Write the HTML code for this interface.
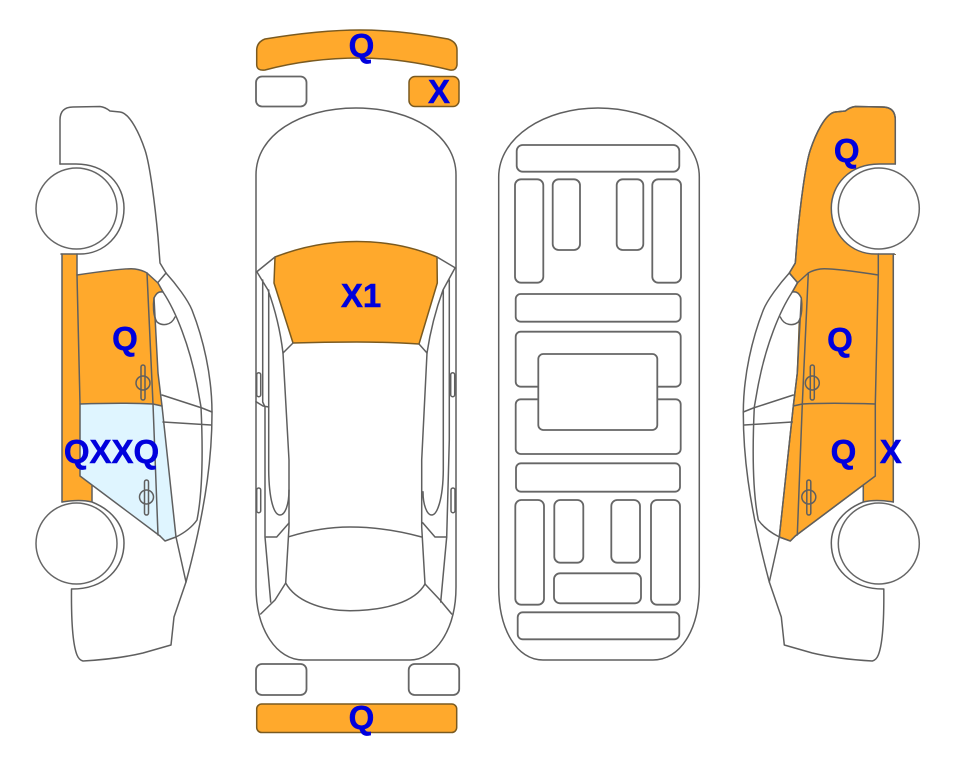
<!DOCTYPE html>
<html><head><meta charset="utf-8"><style>
html,body{margin:0;padding:0;background:#fff;width:963px;height:768px;overflow:hidden}
svg{display:block;filter:blur(.35px)}
.l{fill:none;stroke:#5f5f5f;stroke-width:1.5;stroke-linejoin:round;stroke-linecap:round}
.r{fill:#fff;stroke:#666;stroke-width:1.8}
.o{fill:#FFA92C;stroke:#7a5a20;stroke-width:1.5;stroke-linejoin:round}
.t{font-family:"Liberation Sans",sans-serif;font-weight:bold;font-size:33px;fill:#0000DD;stroke:#0000DD;stroke-width:.5;text-anchor:middle}
</style></head><body>
<svg width="963" height="768" viewBox="0 0 963 768" xmlns="http://www.w3.org/2000/svg">
<defs>
<g id="whites">
<path d="M60 164L76 164C106 164 124 185 124 208C124 235 104 254 80 254L36 254L36 164Z" fill="#fff"/>
<path d="M62 502Q80 499 92 502C112 510 124 525 124 543C124 568 105 589 72 589L36 589L36 502Z" fill="#fff"/>
<path d="M163 292C158 291 156 294 154 298C153 305 153 316 157 322C162 326 171 326 175 317Z" fill="#fff"/>
</g>
<g id="carlines">
<path class="l" d="M60 164L60 120C60 110 66 107 73 107L100 106.5Q105 107 110 111L120 112C130 113 140 135 145 150C150 165 155 205 158 237L160 263L166 273"/>
<path class="l" d="M166 273L157.7 282.7"/>
<path class="l" d="M166 273C176 284 188 300 192 310C203 338 212 375 212 413C212 450 208 500 186 582"/>
<path class="l" d="M77 275C110 270 128 268 135 269Q142 270 147 273L158 283L163 292C175 310 190 345 198 390L201 407C203 450 203 490 197 520Q190 530 176 537L165 541L160 536"/>
<path class="l" d="M62 254L62 502M77 254L77 275L80 404L80 476L92 485L92 501M92 485L160 536"/>
<path class="l" d="M147 273L153 404L158 535"/>
<path class="l" d="M80 404C110 403 135 403 153 404L162 406"/>
<path class="l" d="M154 298L158 373L162 406L176 537L186 582L174 617L171 645L143 653Q118 659 83 661Q79 660 77 655Q71 640 71.5 589"/>
<path class="l" d="M162 395L202 408L212 412M163 422L211 425"/>
<path class="l" d="M163 292C158 291 156 294 154 298C153 305 153 316 157 322C162 326 171 326 175 317"/>
<path class="l" d="M60 164L76 164C106 164 124 185 124 208C124 235 104 254 80 254L61 254"/>
<path class="l" d="M62 502Q80 499 92 502C112 510 124 525 124 543C124 568 105 589 72 589"/>
<circle class="r" cx="76.5" cy="208.5" r="40.5" style="stroke-width:1.5"/>
<circle class="r" cx="76.5" cy="543.5" r="40.5" style="stroke-width:1.5"/>
<rect class="l" x="141" y="365" width="4" height="35" rx="2"/>
<ellipse class="l" cx="143" cy="383" rx="7" ry="7"/>
<rect class="l" x="144.5" y="480" width="4" height="35" rx="2"/>
<ellipse class="l" cx="146.5" cy="497" rx="7" ry="7"/>
</g>
</defs>

<rect width="963" height="768" fill="#fff"/>
<!-- left car -->
<path fill="#FFA92C" d="M62 254L77 254L77 275C110 270 128 268 135 269Q142 270 147 273L158 283L163 292L155 298L158 373L162 406L80 404L80 476L92 485L92 502L62 502Z"/>
<path fill="#DFF5FF" d="M80 404C110 403 135 403 153 404L162 406L176 537L165 541L160 536L92 485L80 476Z"/>
<use href="#whites"/>
<use href="#carlines"/>

<!-- right car -->
<g transform="translate(955.3 0) scale(-1 1)">
<path fill="#FFA92C" stroke="#6b4a10" stroke-width="1.4" d="M60 254L60 120C60 110 66 107 73 107L100 106.5Q105 107 110 111L120 112C130 113 140 135 145 150C150 165 155 205 158 237L160 263L166 273L157.7 282.7L163 292L155 298L158 373L162 406L176 537L165 541L160 536L92 485L92 502L62 502L62 254Z"/>
<use href="#whites"/>
<use href="#carlines"/>
</g>

<!-- top view bumper/lights -->
<path class="o" d="M256.7 50Q257 42 265 39Q320 30 360 30Q400 30 448 39Q457 42 457 50L457 65Q456 71 450 70Q400 58 360 58Q310 58 265 70Q257 71 256.7 65Z"/>
<rect class="r" x="256" y="76.5" width="50.5" height="30" rx="6"/>
<rect class="o" x="409" y="76.5" width="50" height="30" rx="6"/>

<!-- top view car -->
<path class="l" d="M256 175C256 135 300 108 356 108C412 108 456 135 456 175L456 587C456 630 435 660 410 660L303 660C277 660 256 630 256 587Z"/>
<path class="o" d="M275 257Q315 241.5 356.7 241.5Q400 241.5 437 257L437.3 283L419 344Q385 342 356.7 342Q325 342 293 343L274 283Z"/>
<path class="l" d="M256.5 272L275 257M455.5 268L437 257"/>
<path class="l" d="M257 272L268 290Q279 320 283 353L293 343"/>
<path class="l" d="M455 268L443 290Q432 320 427 353L419 344"/>
<path class="l" d="M262.7 280L262.7 402L265 407L265 537L270.7 602"/>
<path class="l" d="M268.7 290L268.7 470C269 500 274 515 280 515C285 515 289 505 289 490"/>
<path class="l" d="M256 401.7L263 406L268.7 407"/>
<path class="l" d="M283 353L289 460L289 527L285.7 583"/>
<path class="l" d="M266 537L276.7 537L289 523"/>
<path class="l" d="M449.3 280L449.3 440L446.7 537L440.7 602"/>
<path class="l" d="M443.3 290L443.3 470C443 500 437 515 431.7 515C427 515 423 505 423 491.7"/>
<path class="l" d="M427 353L421.7 460L421.7 527L425 584"/>
<path class="l" d="M446.7 537L435 537L422.7 522.7"/>
<path class="l" d="M289 536.7Q320 527 350 527Q385 527 421.7 537"/>
<path class="l" d="M285.7 583C295 600 320 610.7 350 610.7C385 610.7 415 602 425 584"/>
<path class="l" d="M285.7 583L275 600L260.7 614M425 584L440 600L451.7 614"/>
<rect class="l" x="256.7" y="372.7" width="4" height="24" rx="2"/>
<rect class="l" x="256.7" y="488" width="4" height="24.7" rx="2"/>
<rect class="l" x="450.7" y="372.7" width="4" height="24" rx="2"/>
<rect class="l" x="451" y="488" width="4" height="24.7" rx="2"/>

<rect class="r" x="256" y="664" width="50.5" height="31" rx="6"/>
<rect class="r" x="408.7" y="664" width="50.5" height="31" rx="6"/>
<rect class="o" x="256.7" y="704" width="200" height="28.5" rx="5"/>

<!-- middle car -->
<path class="l" d="M498.7 177C498.7 137 545 108 598 108C652 108 699.3 137 699.3 177L699.3 587C699.3 630 680 660 653 660L543 660C517 660 498.7 630 498.7 587Z"/>
<rect class="r" x="516.7" y="145" width="162.6" height="26.7" rx="6"/>
<rect class="r" x="515" y="179.3" width="28.3" height="103.4" rx="6"/>
<rect class="r" x="552.7" y="179.3" width="27.3" height="70.7" rx="6"/>
<rect class="r" x="616.7" y="179.3" width="26.6" height="70.7" rx="6"/>
<rect class="r" x="652.3" y="179.3" width="28.7" height="103.4" rx="6"/>
<rect class="r" x="515.7" y="294" width="165" height="27.7" rx="5"/>
<rect class="r" x="515.7" y="331.7" width="165" height="55" rx="5"/>
<rect class="r" x="515.7" y="399.3" width="165" height="54.7" rx="5"/>
<rect class="r" x="538.3" y="354" width="119" height="76" rx="5"/>
<rect class="r" x="516" y="463.3" width="164" height="28.4" rx="5"/>
<rect class="r" x="515.3" y="500" width="28.7" height="104.7" rx="6"/>
<rect class="r" x="554.3" y="500" width="29" height="62.7" rx="6"/>
<rect class="r" x="611.3" y="500" width="28.7" height="62.7" rx="6"/>
<rect class="r" x="651" y="500" width="29" height="104.7" rx="6"/>
<rect class="r" x="554" y="573.3" width="87" height="30" rx="6"/>
<rect class="r" x="517.7" y="612.3" width="161.6" height="27" rx="5"/>

<!-- labels -->
<text class="t" x="361.5" y="57">Q</text>
<text class="t" x="439" y="103">X</text>
<text class="t" x="361" y="307">X1</text>
<text class="t" x="125" y="350">Q</text>
<text class="t" x="111.5" y="463">QXXQ</text>
<text class="t" x="846.7" y="162">Q</text>
<text class="t" x="840" y="351">Q</text>
<text class="t" x="843.5" y="463">Q</text>
<text class="t" x="890.7" y="463">X</text>
<text class="t" x="361.5" y="729">Q</text>
</svg>
</body></html>
